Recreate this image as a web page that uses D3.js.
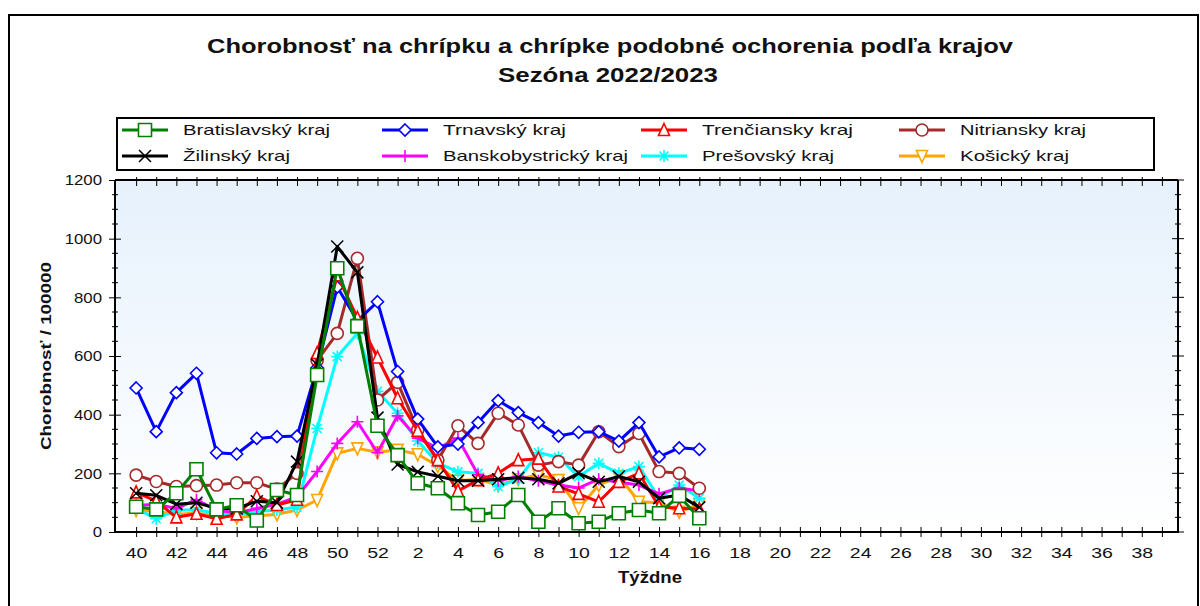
<!DOCTYPE html>
<html><head><meta charset="utf-8">
<script src="https://cdn.jsdelivr.net/npm/d3@7"></script>
<style>
body{margin:0;background:#fff;}
svg{display:block;font-family:"Liberation Sans",Arial,sans-serif;}
</style></head>
<body><svg id="c" width="1200" height="606"></svg>
<script>
// ---- data ----
const weeks = [40,41,42,43,44,45,46,47,48,49,50,51,52,1,2,3,4,5,6,7,8,9,10,11,12,13,14,15,16];
const axisWeeks = [40,41,42,43,44,45,46,47,48,49,50,51,52,1,2,3,4,5,6,7,8,9,10,11,12,13,14,15,16,17,18,19,20,21,22,23,24,25,26,27,28,29,30,31,32,33,34,35,36,37,38,39];
const yTicks = [0,200,400,600,800,1000,1200];
const bratislavsky = [86,77,132,214,77,91,39,143,126,535,899,702,362,262,166,149,98,58,69,126,35,81,30,35,64,75,64,123,47];
const trnavsky = [491,342,475,541,270,266,319,325,327,560,835,720,785,547,385,290,300,373,448,407,373,327,340,342,310,373,256,287,282];
const trenciansky = [135,105,50,62,45,60,122,92,110,610,875,730,595,456,345,245,140,177,200,245,250,155,130,103,171,200,86,81,78];
const nitriansky = [194,172,155,158,160,168,168,146,200,585,677,933,450,510,348,245,362,302,405,365,228,240,228,342,291,336,206,200,149];
const zilinsky = [132,125,95,100,80,80,105,100,240,570,973,885,390,230,205,190,175,175,180,185,180,166,200,171,189,171,115,126,84];
const banskobystricky = [90,95,80,110,75,65,80,95,120,206,302,376,270,396,320,285,320,195,175,189,175,160,150,180,170,160,130,150,140];
const presovsky = [80,45,75,75,65,60,70,75,85,353,598,677,480,405,310,235,205,200,155,180,270,255,189,234,200,223,115,160,115];
const kosicky = [75,70,60,65,55,50,55,60,75,109,268,285,272,280,265,225,175,180,160,180,195,177,81,160,190,103,100,69,95];

const seriesNames = ["Bratislavský kraj","Trnavský kraj","Trenčiansky kraj","Nitriansky kraj","Žilinský kraj","Banskobystrický kraj","Prešovský kraj","Košický kraj"];
const seriesValues = [bratislavsky,trnavsky,trenciansky,nitriansky,zilinsky,banskobystricky,presovsky,kosicky];
const seriesColors = ["#008000","#0000ff","#ff0000","#a52a2a","#000000","#ff00ff","#00ffff","#ffa500"];
const seriesMarkers = ["square","diamond","triangleUp","circle","x","plus","asterisk","triangleDown"];
const drawOrder = [7,6,5,3,1,2,4,0];

// ---- layout ----
const svg = d3.select("#c");
const L=115, R=1178, T=180, B=532;
const x = d3.scaleLinear().domain([-1.05, 51.8]).range([L, R]);
const y = d3.scaleLinear().domain([0, 1200]).range([B, T]);
const STRETCH = 1.3;
function stretch(sel, w){
  const n = sel.node();
  const len = w || n.getComputedTextLength()*STRETCH;
  sel.attr("textLength", len).attr("lengthAdjust","spacingAndGlyphs");
}

// outer frame
svg.append("rect").attr("x",9).attr("y",15).attr("width",1189).attr("height",620)
  .attr("fill","none").attr("stroke","#000").attr("stroke-width",2);

// title
stretch(svg.append("text").attr("x",610).attr("y",53).attr("text-anchor","middle")
  .attr("font-size",21).attr("font-weight","bold").attr("fill","#111")
  .text("Chorobnosť na chrípku a chrípke podobné ochorenia podľa krajov"), 806);
stretch(svg.append("text").attr("x",608).attr("y",82).attr("text-anchor","middle")
  .attr("font-size",21).attr("font-weight","bold").attr("fill","#111")
  .text("Sezóna 2022/2023"), 220);

// plot background gradient
const defs = svg.append("defs");
const g = defs.append("linearGradient").attr("id","bg").attr("x1",0).attr("y1",0).attr("x2",0).attr("y2",1);
g.append("stop").attr("offset","0%").attr("stop-color","#e6f1fc");
g.append("stop").attr("offset","100%").attr("stop-color","#ffffff");
svg.append("rect").attr("x",L).attr("y",T).attr("width",R-L).attr("height",B-T).attr("fill","url(#bg)");

// marker drawing
function marker(sel, type, color, s){
  const h=s/2;
  let p;
  switch(type){
    case "square": p=`M${-h},${-h}H${h}V${h}H${-h}Z`; break;
    case "diamond": p=`M0,${-h-1}L${h+1},0L0,${h+1}L${-h-1},0Z`; break;
    case "triangleUp": p=`M0,${-h-1}L${h},${h}L${-h},${h}Z`; break;
    case "triangleDown": p=`M0,${h+1}L${h},${-h}L${-h},${-h}Z`; break;
    case "circle": p=`M${h},0A${h},${h} 0 1,1 ${-h},0A${h},${h} 0 1,1 ${h},0Z`; break;
    case "x": p=`M${-h},${-h}L${h},${h}M${-h},${h}L${h},${-h}`; break;
    case "plus": p=`M${-h},0H${h}M0,${-h}V${h}`; break;
    case "asterisk": p=`M${-h},0H${h}M0,${-h}V${h}M${-h*0.75},${-h*0.75}L${h*0.75},${h*0.75}M${-h*0.75},${h*0.75}L${h*0.75},${-h*0.75}`; break;
  }
  const open = ["x","plus","asterisk"].indexOf(type)<0;
  sel.append("path").attr("d",p).attr("fill",open?"#fff":"none")
    .attr("stroke",color).attr("stroke-width",type==="x"?1.5:1.6);
}
const markerSize = [13,10,11,12,12,12,12,11];

// axes
const axG = svg.append("g");
const xb = d3.axisBottom(x).tickValues(d3.range(0,52)).tickSize(5)
  .tickFormat(i => axisWeeks[i] % 2 === 0 ? axisWeeks[i] : "");
const gxb = axG.append("g").attr("transform",`translate(0,${B})`).call(xb);
gxb.select(".domain").remove();
gxb.selectAll(".tick line").attr("y1",-5).attr("y2",5).attr("stroke","#000").attr("stroke-width",1);
gxb.selectAll(".tick text").attr("y",15).attr("font-size",15).attr("font-family","Liberation Sans, Arial, sans-serif").attr("fill","#111");
gxb.selectAll(".tick text").each(function(){ if(this.textContent) stretch(d3.select(this)); });
const xt = d3.axisTop(x).tickValues(d3.range(0,52)).tickSize(0).tickFormat("");
const gxt = axG.append("g").attr("transform",`translate(0,${T})`).call(xt);
gxt.select(".domain").remove();
gxt.selectAll(".tick line").attr("y1",-3).attr("y2",6).attr("stroke","#000");
const yl = d3.axisLeft(y).tickValues(yTicks).tickSize(6).tickFormat(d=>d);
const gyl = axG.append("g").attr("transform",`translate(${L},0)`).call(yl);
gyl.select(".domain").remove();
gyl.selectAll(".tick line").attr("x1",-6).attr("x2",6).attr("stroke","#000");
gyl.selectAll(".tick text").attr("x",-13).attr("font-size",15).attr("font-family","Liberation Sans, Arial, sans-serif").attr("fill","#111");
gyl.selectAll(".tick text").each(function(){ stretch(d3.select(this), this.getComputedTextLength()*1.12); });
const minor = d3.range(0,1201,50).filter(v=>v%200!==0);
axG.selectAll(".mnl").data(minor).join("line").attr("x1",L-3).attr("x2",L+3)
  .attr("y1",d=>y(d)).attr("y2",d=>y(d)).attr("stroke","#000");
axG.selectAll(".mnr").data(minor).join("line").attr("x1",R-3).attr("x2",R+3)
  .attr("y1",d=>y(d)).attr("y2",d=>y(d)).attr("stroke","#000");
axG.selectAll(".mjr").data(yTicks).join("line").attr("x1",R-6).attr("x2",R+6)
  .attr("y1",d=>y(d)).attr("y2",d=>y(d)).attr("stroke","#000");
axG.append("line").attr("x1",L).attr("x2",R+1).attr("y1",B).attr("y2",B).attr("stroke","#000").attr("stroke-width",2);
axG.append("line").attr("x1",L).attr("x2",R).attr("y1",T).attr("y2",T).attr("stroke","#000").attr("stroke-width",2);
axG.append("line").attr("x1",L).attr("x2",L).attr("y1",T).attr("y2",B).attr("stroke","#000").attr("stroke-width",2);
axG.append("line").attr("x1",R).attr("x2",R).attr("y1",T).attr("y2",B).attr("stroke","#000").attr("stroke-width",2);

// axis titles
stretch(svg.append("text").attr("x",650).attr("y",583).attr("text-anchor","middle")
  .attr("font-size",16).attr("font-weight","bold").attr("fill","#111").text("Týždne"), 64);
stretch(svg.append("text").attr("transform","translate(51,356) rotate(-90)").attr("text-anchor","middle")
  .attr("font-size",15).attr("font-weight","bold").attr("fill","#111").text("Chorobnosť / 100000"), 188);

// series
const line = d3.line().x((d,i)=>x(i)).y(d=>y(d));
const plot = svg.append("g");
drawOrder.forEach(k=>{
  const vals = seriesValues[k];
  plot.append("path").datum(vals).attr("d",line).attr("fill","none")
    .attr("stroke",seriesColors[k]).attr("stroke-width",3).attr("stroke-linejoin","round");
  vals.forEach((v,i)=>{
    const m = plot.append("g").attr("transform",`translate(${x(i)},${y(v)})`);
    marker(m, seriesMarkers[k], seriesColors[k], markerSize[k]);
  });
});

// legend
const legendWidths = [147,123,151,126,107,185,132,109];
const lg = svg.append("g");
lg.append("rect").attr("x",117).attr("y",118).attr("width",1037).attr("height",52)
  .attr("fill","#fff").attr("stroke","#000").attr("stroke-width",2);
const colX = [122,382,641,899];
const rowY = [130,156];
seriesNames.forEach((n,k)=>{
  const cx = colX[k%4], cy = rowY[Math.floor(k/4)];
  lg.append("line").attr("x1",cx).attr("x2",cx+46).attr("y1",cy).attr("y2",cy)
    .attr("stroke",seriesColors[k]).attr("stroke-width",3);
  const m = lg.append("g").attr("transform",`translate(${cx+23},${cy})`);
  marker(m, seriesMarkers[k], seriesColors[k], markerSize[k]);
  stretch(lg.append("text").attr("x",cx+61).attr("y",cy+5).attr("font-size",15).attr("fill","#111").text(n), legendWidths[k]);
});
</script></body></html>
